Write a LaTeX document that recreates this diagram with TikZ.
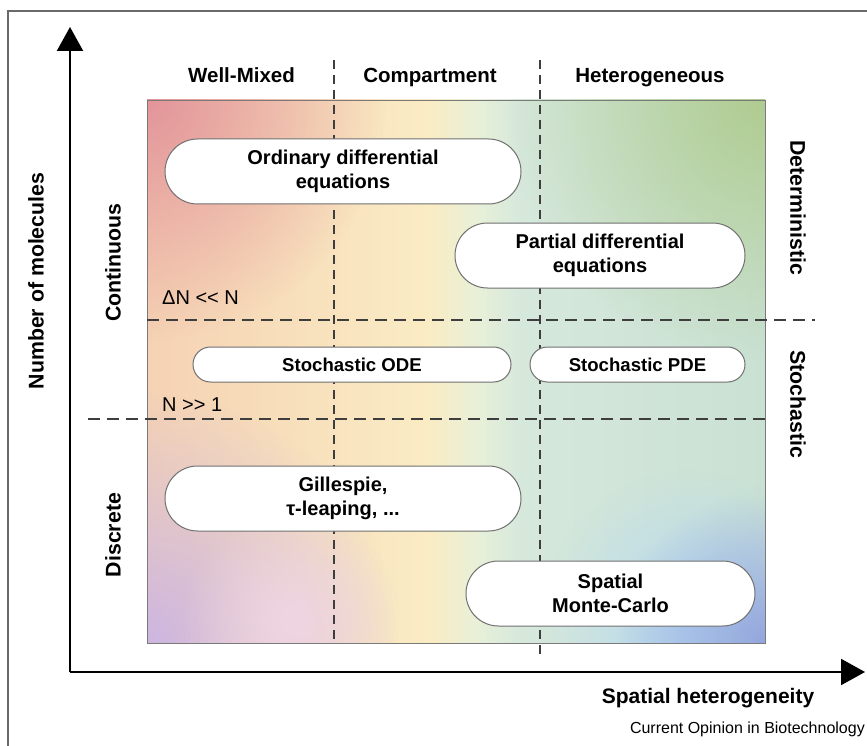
\documentclass[tikz,border=0pt]{standalone}
\usepackage{fontspec}
\setmainfont{Liberation Sans}
\usetikzlibrary{arrows.meta,fadings}
\definecolor{framegray}{HTML}{6A6A6A}
\definecolor{rectgray}{HTML}{7A7A7A}
\definecolor{dashgray}{HTML}{3E3E3E}
\definecolor{boxgray}{HTML}{707070}
\definecolor{g0}{HTML}{F5D2B4}
\definecolor{g1}{HTML}{F8E0BC}
\definecolor{g2}{HTML}{FAECC4}
\definecolor{g3}{HTML}{E8F0D8}
\definecolor{g4}{HTML}{D6E8DC}
\definecolor{g5}{HTML}{C9E1D3}
\definecolor{cred}{HTML}{E3959A}
\definecolor{cpurple}{HTML}{CDB6E1}
\definecolor{cpink}{HTML}{EFD5E3}
\definecolor{cgreen}{HTML}{B0CC90}
\definecolor{cblue}{HTML}{93A6DE}
\definecolor{clblue}{HTML}{B8DAF3}
\pgfdeclarehorizontalshading{bgshade}{100bp}{color(0bp)=(g0); color(25bp)=(g0); color(37.4bp)=(g1); color(47.9bp)=(g2); color(51.6bp)=(g3); color(55.2bp)=(g4); color(75bp)=(g5); color(100bp)=(g5)}
\tikzfading[name=blob, inner color=transparent!0, outer color=transparent!100]
\tikzset{
  hdr/.style={font=\fontsize{20.5}{24}\selectfont\bfseries, inner sep=0pt},
  lbl/.style={font=\fontsize{20}{24}\selectfont, inner sep=0pt},
  side/.style={font=\fontsize{21.3}{25}\selectfont\bfseries, inner sep=0pt},
  mbox/.style={draw=boxgray, fill=white, line width=1pt, align=center,
    font=\fontsize{20}{24}\selectfont\bfseries, inner sep=0pt},
  sbox/.style={mbox, minimum height=35, rounded corners=17.5,
    font=\fontsize{18.6}{22}\selectfont\bfseries},
  axisline/.style={line width=2.2pt, -{Triangle[length=24pt,width=26pt]}},
  hdash/.style={dashgray, line width=1.6pt, dash pattern=on 12pt off 7pt},
  vdash/.style={dashgray, line width=1.6pt, dash pattern=on 9pt off 6pt},
}
\begin{document}
\begin{tikzpicture}[x=1pt,y=-1pt]
\useasboundingbox (0,0) rectangle (867,746);
\fill[white] (0,0) rectangle (867,746);
% frame
\draw[framegray, line width=2pt] (8,746) -- (8,11) -- (867,11);
% background
\begin{scope}
  \clip (147,100) rectangle (765,643);
  \shade[shading=bgshade] (147,100) rectangle (765,643);
  \fill[cred, path fading=blob, fit fading=true] (147,100) circle (240);
  \fill[cpurple, path fading=blob, fit fading=true] (147,643) circle (250);
  \fill[cpink, path fading=blob, fit fading=true] (290,620) circle (110);
  \fill[cgreen, path fading=blob, fit fading=true] (765,100) circle (260);
  \fill[clblue, path fading=blob, fit fading=true] (690,620) circle (150);
  \fill[cblue, path fading=blob, fit fading=true] (765,643) circle (150);
\end{scope}
\draw[rectgray, line width=0.9pt] (147,100) rectangle (765,643);
% dashed lines
\draw[vdash] (334,60) -- (334,643);
\draw[vdash] (540,60) -- (540,657);
\draw[hdash] (147,320) -- (815,320);
\draw[hdash] (88,419) -- (765,419);
% axes
\coordinate (O) at (70,672);
\coordinate (ytip) at (70,27);
\coordinate (xtip) at (865,672);
\draw[axisline] (O) -- (ytip);
\draw[axisline] (O) -- (xtip);
% headers
\node[hdr, anchor=base] (wm) at (241.5,83) {Well-Mixed};
\node[hdr, anchor=base] (cp) at (430,83) {Compartment};
\node[hdr, anchor=base] (ht) at (650,83) {Heterogeneous};
% boxes
\node[mbox, minimum width=356, minimum height=65, rounded corners=32.5] (ode) at (343,171.5) {Ordinary differential\\equations};
\node[mbox, minimum width=290, minimum height=65, rounded corners=32.5] (pde) at (600,255.5) {Partial differential\\equations};
\node[sbox, minimum width=318] (sode) at (352,364.5) {Stochastic ODE};
\node[sbox, minimum width=215] (spde) at (637.5,364.5) {Stochastic PDE};
\node[mbox, minimum width=356, minimum height=65, rounded corners=32.5] (gil) at (343,498.5) {Gillespie,\\τ-leaping, ...};
\node[mbox, minimum width=289, minimum height=65, rounded corners=32.5] (smc) at (610.5,593.5) {Spatial\\Monte-Carlo};
% regime labels
\node[lbl, anchor=base west] (dn) at (162,304) {ΔN <{}< N};
\node[lbl, anchor=base west] (n1) at (162,411) {N >{}> 1};
% side labels
\node[side, rotate=90] (nm) at (36,281) {Number of molecules};
\node[side, rotate=90] (cont) at (113,262.5) {Continuous};
\node[side, rotate=90] (disc) at (113,535) {Discrete};
\node[side, rotate=-90] (det) at (798,207.5) {Deterministic};
\node[side, rotate=-90] (sto) at (798,404) {Stochastic};
% x axis label and credit
\node[font=\fontsize{21}{25}\selectfont\bfseries, inner sep=0pt] (sh) at (708,698) {Spatial heterogeneity};
\node[font=\fontsize{16}{19}\selectfont, inner sep=0pt, anchor=east] (co) at (865,729) {Current Opinion in Biotechnology};
\end{tikzpicture}
\end{document}
